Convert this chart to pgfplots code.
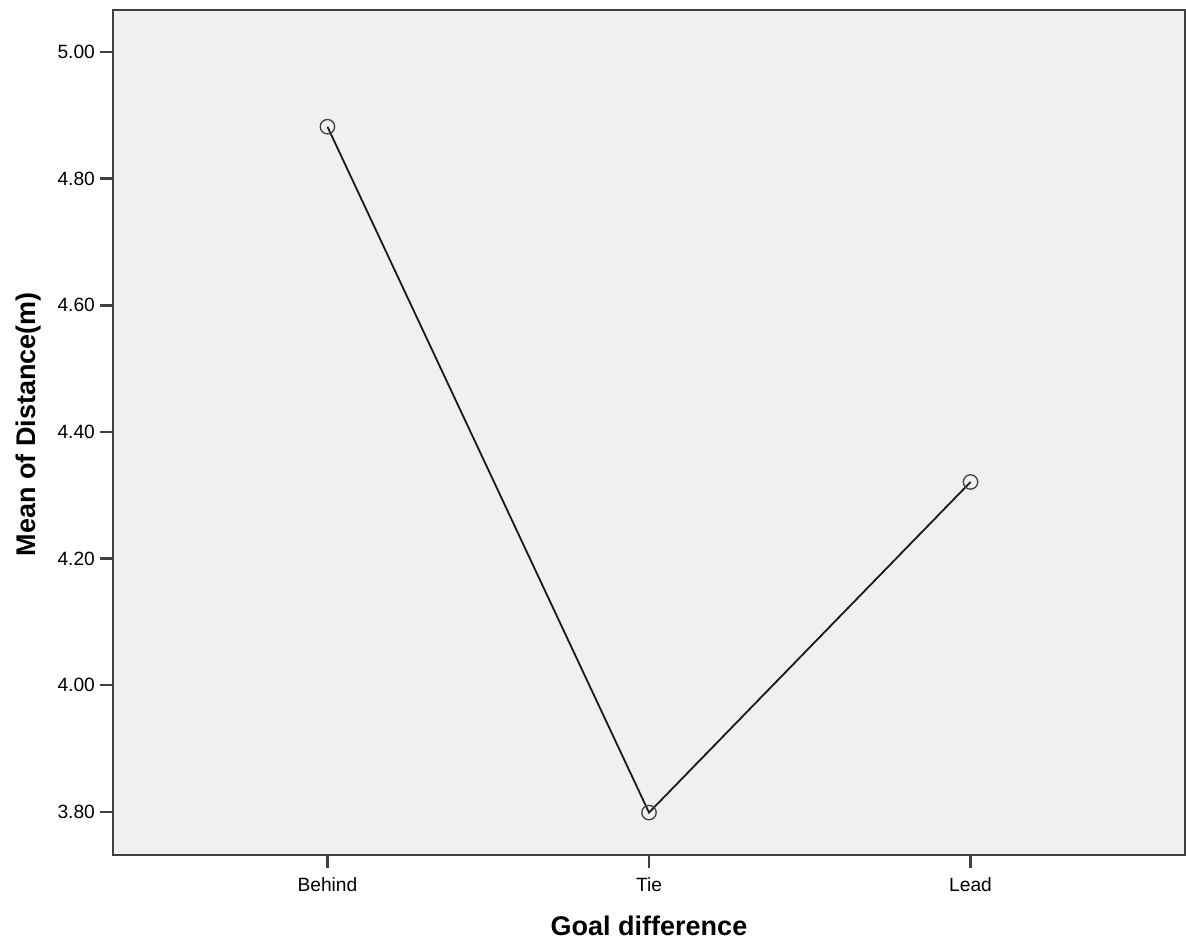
\documentclass[border=0pt]{standalone}
\usepackage{pgfplots}
\pgfplotsset{compat=1.18}
\usepackage{fontspec}
\setmainfont{Liberation Sans}

\definecolor{plotbg}{HTML}{F0F0F0}
\definecolor{axisgray}{HTML}{404040}

\begin{document}
\begin{tikzpicture}
% mean distance by goal difference
\begin{axis}[
    at={(0,0)}, anchor=south west,
    scale only axis,
    width=536pt, height=422.5pt,
    xmin=-0.667, xmax=2.667,
    ymin=3.732, ymax=5.0663,
    xtick={0,1,2},
    xticklabels={Behind, Tie, Lead},
    ytick={3.8,4.0,4.2,4.4,4.6,4.8,5.0},
    /pgf/number format/fixed,
    /pgf/number format/fixed zerofill,
    /pgf/number format/precision=2,
    /pgf/number format/assume math mode=true,
    tick pos=left,
    tick align=outside,
    major tick length=6.5pt,
    tick style={axisgray, line width=1.2pt},
    axis line style={axisgray, line width=1.2pt},
    axis background/.style={fill=plotbg},
    ticklabel style={font=\fontsize{9.6}{11}\selectfont},
    xticklabel style={yshift=-1.5pt},
    yticklabel style={xshift=1pt},
    xlabel={Goal difference},
    ylabel={Mean of Distance(m)},
    label style={font=\fontsize{13.5}{16}\selectfont\bfseries},
    xlabel style={at={(axis description cs:0.5,-0.0947)}, anchor=base},
    ylabel style={at={(axis description cs:-0.0784,0.51)}, anchor=center},
]
\addplot[black!90, line width=0.9pt, mark=o, mark size=3.6pt,
    mark options={draw=black!75, line width=0.65pt}]
    coordinates {(0,4.882) (1,3.799) (2,4.321)};
\end{axis}
\pgfresetboundingbox
\path (-56.5pt,-44pt) rectangle (536.5pt,427.5pt);
\end{tikzpicture}
\end{document}
